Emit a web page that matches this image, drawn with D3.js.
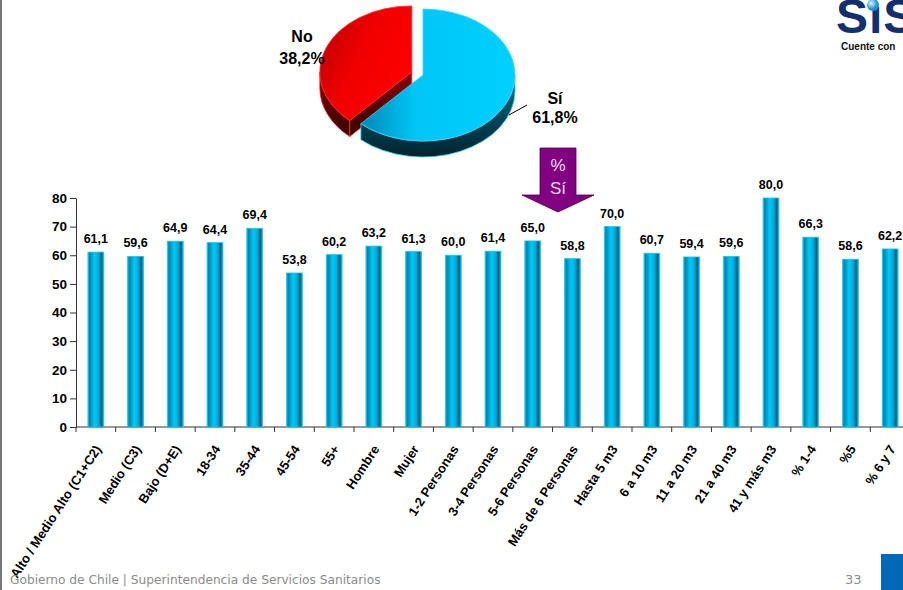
<!DOCTYPE html>
<html>
  <head>
    <meta charset="utf-8">
    <title>% Sí por segmento</title>
    <script src="https://cdnjs.cloudflare.com/ajax/libs/d3/7.8.5/d3.min.js"></script>
    <style>
      body { margin: 0; background: #fff; }
      svg { display: block; font-family: "Liberation Sans", Arial, sans-serif; }
      .axis path, .axis line { stroke: #333; }
      .axis text { font-size: 13.5px; font-weight: bold; fill: #000; }
    </style>
  </head>
  <body>
    <svg id="chart" width="903" height="590"></svg>
    <script>
      // data
      var categories = ["Alto / Medio Alto (C1+C2)", "Medio (C3)", "Bajo (D+E)", "18-34", "35-44", "45-54", "55+",
        "Hombre", "Mujer", "1-2 Personas", "3-4 Personas", "5-6 Personas", "Más de 6 Personas", "Hasta 5 m3",
        "6 a 10 m3", "11 a 20 m3", "21 a 40 m3", "41 y más m3", "% 1-4", "%5", "% 6 y 7"];
      var values = [61.1, 59.6, 64.9, 64.4, 69.4, 53.8, 60.2, 63.2, 61.3, 60.0, 61.4, 65.0, 58.8, 70.0,
        60.7, 59.4, 59.6, 80.0, 66.3, 58.6, 62.2];
      var yTicks = [0, 10, 20, 30, 40, 50, 60, 70, 80];
      var pieLabels = ["Sí", "No"];
      var pieValues = [61.8, 38.2];

      var fmt = function(v) { return d3.format(".1f")(v).replace(".", ","); };

      var svg = d3.select("#chart");
      var defs = svg.append("defs");

      function gradient(id, stops, x2, y2) {
        var g = defs.append("linearGradient").attr("id", id)
          .attr("x1", 0).attr("y1", 0).attr("x2", x2).attr("y2", y2);
        stops.forEach(function(s) {
          g.append("stop").attr("offset", s[0]).attr("stop-color", s[1]);
        });
      }
      gradient("barGrad", [[0, "#2ec4ea"], [0.1, "#0083ab"], [0.42, "#00c9f8"], [0.68, "#00a9d8"], [0.86, "#005c7c"], [1, "#1fb6dd"]], 1, 0);
      gradient("blueTop", [[0, "#0087b6"], [0.35, "#00c6f5"], [1, "#00d0ff"]], 1, 0);
      gradient("blueWall", [[0, "#006e8a"], [1, "#00222e"]], 0, 1);
      gradient("redTop", [[0, "#b00000"], [0.5, "#f00000"], [1, "#ff0000"]], 1, 0.6);
      gradient("redWall", [[0, "#8a0000"], [1, "#330000"]], 0, 1);

      // left border
      svg.append("rect").attr("x", 0).attr("y", 0).attr("width", 2).attr("height", 590).attr("fill", "#777");

      // bar chart
      var margin = { left: 76, top: 198, bottom: 427 };
      var x = d3.scaleBand().domain(categories).range([margin.left, 910]).paddingInner(0.6).paddingOuter(0.3);
      var y = d3.scaleLinear().domain([0, 80]).range([margin.bottom, margin.top]);

      var yAxis = d3.axisLeft(y).tickValues(yTicks).tickSize(6).tickPadding(3).tickSizeOuter(0);
      svg.append("g").attr("class", "axis").attr("transform", "translate(" + margin.left + ",0)").call(yAxis);

      svg.append("g").attr("class", "axis").append("line")
        .attr("x1", margin.left).attr("x2", 903).attr("y1", y(0)).attr("y2", y(0));
      svg.append("g").selectAll("line").data(d3.range(categories.length + 1)).enter().append("line")
        .attr("x1", function(i) { return x.range()[0] + i * x.step(); })
        .attr("x2", function(i) { return x.range()[0] + i * x.step(); })
        .attr("y1", y(0)).attr("y2", y(0) + 5)
        .attr("stroke", "#333");

      svg.append("g").selectAll("rect").data(values).enter().append("rect")
        .attr("x", function(d, i) { return x(categories[i]); })
        .attr("y", function(d) { return y(d); })
        .attr("width", x.bandwidth())
        .attr("height", function(d) { return y(0) - y(d); })
        .attr("fill", "url(#barGrad)")
        .attr("stroke", "#10c8f2").attr("stroke-width", 0.8);

      svg.append("g").selectAll("text").data(values).enter().append("text")
        .attr("x", function(d, i) { return x(categories[i]) + x.bandwidth() / 2; })
        .attr("y", function(d) { return y(d) - 9; })
        .attr("text-anchor", "middle")
        .style("font-size", "12.5px").style("font-weight", "bold")
        .text(fmt);

      svg.append("g").selectAll("text").data(categories).enter().append("text")
        .attr("transform", function(d) {
          return "translate(" + (x(d) + x.bandwidth() / 2 + 6) + "," + 449 + ") rotate(-57)";
        })
        .attr("text-anchor", "end")
        .style("font-size", "13px").style("font-weight", "bold")
        .text(function(d) { return d; });

      // 3d pie
      var pie = d3.pie().sort(null)(pieValues);
      var cx = 423, cy = 75, rx = 92, ry = 66, depth = 16;
      function pt(a, o) { return [o[0] + rx * Math.sin(a), o[1] - ry * Math.cos(a)]; }
      function arcTo(a0, a1, o, sweep) {
        var p = pt(a1, o);
        return "A" + rx + "," + ry + " 0 " + (Math.abs(a1 - a0) > Math.PI ? 1 : 0) + " " + sweep + " " + p[0] + "," + p[1];
      }
      var pieGroup = svg.append("g");
      // draw "No" first (behind), then "Sí"
      [1, 0].forEach(function(i) {
        var s = pie[i];
        var mid = (s.startAngle + s.endAngle) / 2;
        var off = i === 1 ? 12 : 0;
        var o = [cx + off * Math.sin(mid), cy - off * (ry / rx) * Math.cos(mid)];
        var top = i === 0 ? "url(#blueTop)" : "url(#redTop)";
        var wall = i === 0 ? "url(#blueWall)" : "url(#redWall)";
        var edge = i === 0 ? "#3ad8ff" : "#ff2a2a";
        if (i === 1) {
          var p0 = pt(s.startAngle, o);
          pieGroup.append("path")
            .attr("d", "M" + o[0] + "," + o[1] + "L" + p0[0] + "," + p0[1] + "L" + p0[0] + "," + (p0[1] + depth) +
              "L" + o[0] + "," + (o[1] + depth) + "Z")
            .attr("fill", wall).attr("stroke", edge).attr("stroke-width", 0.8);
        }
        var b0 = Math.max(s.startAngle, Math.PI / 2), b1 = Math.min(s.endAngle, 3 * Math.PI / 2);
        if (b1 > b0) {
          var q0 = pt(b0, o), q1 = pt(b1, o);
          pieGroup.append("path")
            .attr("d", "M" + q0[0] + "," + q0[1] + arcTo(b0, b1, o, 1) + "L" + q1[0] + "," + (q1[1] + depth) +
              arcTo(b1, b0, [o[0], o[1] + depth], 0) + "Z")
            .attr("fill", wall).attr("stroke", edge).attr("stroke-width", 0.8);
        }
        var a = pt(s.startAngle, o);
        pieGroup.append("path")
          .attr("d", "M" + o[0] + "," + o[1] + "L" + a[0] + "," + a[1] + arcTo(s.startAngle, s.endAngle, o, 1) + "Z")
          .attr("fill", top).attr("stroke", edge).attr("stroke-width", 0.8);
      });

      // pie labels
      var pieText = [
        { x: 555, y: [104, 123] },
        { x: 302, y: [42, 64] }
      ];
      pieText.forEach(function(t, i) {
        svg.append("text").attr("x", t.x).attr("y", t.y[0]).attr("text-anchor", "middle")
          .style("font-size", "16px").style("font-weight", "bold").text(pieLabels[i]);
        svg.append("text").attr("x", t.x).attr("y", t.y[1]).attr("text-anchor", "middle")
          .style("font-size", "16px").style("font-weight", "bold").text(fmt(pieValues[i]) + "%");
      });
      svg.append("line").attr("x1", 509).attr("y1", 115).attr("x2", 527).attr("y2", 105).attr("stroke", "#000");

      // arrow
      svg.append("path")
        .attr("d", "M540,148H576V195H594L558,212L522,195H540Z")
        .attr("fill", "#800080").attr("stroke", "#4a004a").attr("stroke-width", 0.8);
      svg.append("text").attr("x", 558).attr("y", 171).attr("text-anchor", "middle")
        .style("font-size", "17px").attr("fill", "#f4dcf4").text("%");
      svg.append("text").attr("x", 558).attr("y", 194).attr("text-anchor", "middle")
        .style("font-size", "17px").attr("fill", "#f4dcf4").text("Sí");

      // logo (cut off by the right edge, as in the slide)
      var logo = defs.append("radialGradient").attr("id", "dot").attr("cx", 0.35).attr("cy", 0.35);
      logo.append("stop").attr("offset", 0).attr("stop-color", "#d8f4ff");
      logo.append("stop").attr("offset", 1).attr("stop-color", "#1d8fd6");
      svg.append("text").attr("x", 836).attr("y", 33)
        .style("font-size", "48px").style("font-weight", "bold").attr("fill", "#142f6e")
        .attr("letter-spacing", "1").text("SıS");
      svg.append("circle").attr("cx", 873).attr("cy", 5).attr("r", 6).attr("fill", "url(#dot)");
      svg.append("text").attr("x", 841).attr("y", 50)
        .style("font-size", "10px").style("font-weight", "bold").attr("fill", "#111").text("Cuente con");

      // footer
      svg.append("text").attr("x", 10).attr("y", 584)
        .style("font-family", "'DejaVu Sans', Verdana, sans-serif").style("font-size", "12.2px")
        .attr("fill", "#8c8c8c").text("Gobierno de Chile | Superintendencia de Servicios Sanitarios");
      svg.append("text").attr("x", 845).attr("y", 584)
        .style("font-family", "'DejaVu Sans', Verdana, sans-serif").style("font-size", "13px")
        .attr("fill", "#8c8c8c").text("33");
      svg.append("rect").attr("x", 881).attr("y", 554).attr("width", 22).attr("height", 36).attr("fill", "#0068b4");
    </script>
  </body>
</html>
